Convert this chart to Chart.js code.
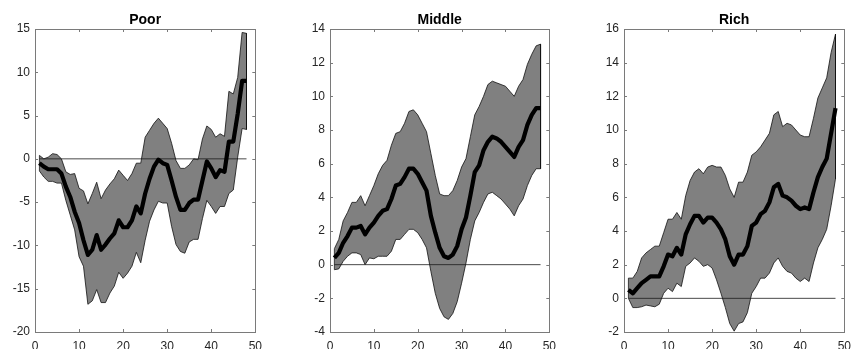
<!DOCTYPE html>
<html>
<head>
<meta charset="utf-8">
<script src="https://cdn.jsdelivr.net/npm/chart.js@4"></script>
<style>
  html, body { margin: 0; padding: 0; background: #fff; overflow: hidden; width: 855px; height: 349px; }
  .panel { position: absolute; top: 0; height: 360px; }
</style>
</head>
<body>
<div class="panel" id="p1"><canvas id="c1"></canvas></div>
<div class="panel" id="p2"><canvas id="c2"></canvas></div>
<div class="panel" id="p3"><canvas id="c3"></canvas></div>
<script>
// ---- data ----
const periods = [1,2,3,4,5,6,7,8,9,10,11,12,13,14,15,16,17,18,19,20,21,22,23,24,25,26,27,28,29,30,31,32,33,34,35,36,37,38,39,40,41,42,43,44,45,46,47,48];
const titles = ["Poor", "Middle", "Rich"];
const xTicks = [0, 10, 20, 30, 40, 50];

const poorMedian = [-0.5,-0.9,-1.2,-1.2,-1.2,-1.7,-3.2,-4.4,-6.1,-7.4,-9.4,-11.1,-10.5,-8.8,-10.5,-9.9,-9.2,-8.6,-7.1,-7.9,-7.9,-7.1,-5.5,-6.3,-4.0,-2.3,-0.9,-0.1,-0.5,-0.7,-2.5,-4.4,-5.9,-5.9,-5.1,-4.7,-4.7,-2.5,-0.3,-1.1,-2.1,-1.3,-1.5,2.0,2.0,5.2,9.0,9.0];
const poorUpper  = [0.4,0.0,0.2,0.6,0.5,0.0,-1.5,-1.8,-1.7,-3.4,-3.7,-5.2,-4.0,-2.7,-4.6,-3.6,-2.9,-2.3,-1.3,-1.9,-2.5,-1.7,-0.5,-0.5,2.5,3.3,4.1,4.7,4.1,3.5,1.8,-0.2,-1.1,-1.1,-0.7,0.0,-0.1,2.3,3.8,3.4,2.5,2.9,2.6,7.8,7.5,9.4,14.6,14.5];
const poorLower  = [-1.4,-2.1,-2.6,-2.6,-2.8,-2.8,-4.8,-6.5,-8.2,-11.3,-12.4,-16.8,-16.4,-15.1,-16.6,-16.6,-15.5,-14.7,-13.1,-13.8,-13.2,-12.4,-10.8,-12.0,-9.4,-7.2,-5.9,-4.9,-5.1,-5.1,-7.8,-9.9,-10.7,-10.9,-9.6,-9.3,-9.3,-6.9,-4.8,-5.5,-6.3,-5.5,-5.5,-4.0,-3.6,0.2,3.5,3.4];

const middleMedian = [0.4,0.7,1.3,1.7,2.2,2.2,2.3,1.8,2.2,2.5,2.9,3.2,3.3,3.9,4.7,4.8,5.2,5.7,5.7,5.4,4.9,4.4,2.9,1.9,1.0,0.5,0.4,0.6,1.1,2.1,2.8,4.1,5.5,5.9,6.8,7.3,7.6,7.5,7.3,7.0,6.7,6.4,7.0,7.4,8.3,8.9,9.3,9.3];
const middleUpper  = [0.95,1.5,2.6,3.1,3.7,3.7,4.1,3.5,4.1,4.7,5.4,5.9,6.2,7.1,7.8,7.9,8.4,9.1,9.2,8.9,8.4,7.9,6.6,5.3,4.2,4.1,4.1,4.4,5.0,5.8,6.3,7.6,8.9,9.4,10.0,10.7,10.9,10.8,10.7,10.6,10.3,10.0,10.6,11.0,11.9,12.5,13.0,13.1];
const middleLower  = [-0.3,-0.25,0.2,0.5,0.7,0.7,0.6,0.0,0.4,0.35,0.5,0.5,0.5,0.8,1.5,1.5,1.8,2.1,2.1,1.9,1.5,1.0,-0.4,-1.7,-2.6,-3.1,-3.25,-2.9,-2.2,-1.1,0.1,1.5,2.6,3.1,3.7,4.2,4.3,4.1,3.9,3.6,3.3,2.9,3.5,3.9,4.7,5.3,5.7,5.7];

const richMedian = [0.5,0.3,0.6,0.9,1.1,1.3,1.3,1.3,1.9,2.6,2.5,3.0,2.6,3.8,4.4,4.9,4.9,4.5,4.8,4.8,4.5,4.1,3.5,2.5,2.0,2.6,2.6,3.1,4.3,4.5,5.0,5.2,5.7,6.6,6.8,6.1,6.0,5.8,5.5,5.3,5.4,5.3,6.3,7.2,7.8,8.3,9.8,11.3];
const richUpper  = [1.2,1.2,1.6,2.4,2.7,2.9,3.1,3.1,3.9,4.7,4.7,5.1,4.7,6.1,7.0,7.5,7.7,7.4,7.8,7.9,7.8,7.8,7.3,6.5,6.0,6.9,6.9,7.5,8.5,8.7,9.0,9.4,9.8,10.9,11.1,10.2,10.4,10.3,10.0,9.7,9.6,9.6,10.7,11.9,12.5,13.1,14.6,15.7];
const richLower  = [0.0,-0.55,-0.55,-0.5,-0.4,-0.45,-0.5,-0.35,0.3,0.6,0.4,0.9,0.7,1.9,2.1,2.4,2.2,1.9,2.0,1.8,1.1,0.3,-0.55,-1.5,-1.95,-1.5,-1.4,-0.85,0.3,0.7,1.2,1.2,1.5,2.1,2.4,1.9,1.6,1.5,1.2,1.0,1.2,1.0,2.1,3.0,3.5,4.1,5.5,7.1];

const poorYTicks   = [-20, -15, -10, -5, 0, 5, 10, 15];
const middleYTicks = [-4, -2, 0, 2, 4, 6, 8, 10, 12, 14];
const richYTicks   = [-2, 0, 2, 4, 6, 8, 10, 12, 14, 16];

// ---- layout (plot area placement per panel) ----
const panels = [
  { id: 'p1', canvas: 'c1', plotL: 35,  plotR: 259, title: titles[0], med: poorMedian,   up: poorUpper,   lo: poorLower,   yt: poorYTicks },
  { id: 'p2', canvas: 'c2', plotL: 330, plotR: 553, title: titles[1], med: middleMedian, up: middleUpper, lo: middleLower, yt: middleYTicks },
  { id: 'p3', canvas: 'c3', plotL: 624, plotR: 848, title: titles[2], med: richMedian,   up: richUpper,   lo: richLower,   yt: richYTicks }
];
const PLOT_TOP = 29, PLOT_BOTTOM = 332, PANEL_H = 360, YAXIS_W = 35, RIGHT_PAD = 10;
const FONT = "'Liberation Sans', Arial, Helvetica, sans-serif";
const AXIS_COLOR = '#262626';

const framePlugin = {
  id: 'frame',
  afterDraw(chart, args, opts) {
    const { ctx, chartArea: a, scales } = chart;
    ctx.save();
    ctx.strokeStyle = '#7a7a7a';
    ctx.lineWidth = 1;
    ctx.strokeRect(Math.round(a.left) + 0.5, Math.round(a.top) + 0.5, Math.round(a.right - a.left), Math.round(a.bottom - a.top));
    const tl = 3;
    ctx.beginPath();
    xTicks.forEach(v => {
      const px = Math.round(scales.x.getPixelForValue(v)) + 0.5;
      ctx.moveTo(px, a.bottom); ctx.lineTo(px, a.bottom - tl);
      ctx.moveTo(px, a.top); ctx.lineTo(px, a.top + tl);
    });
    opts.yTicks.forEach(v => {
      const py = Math.round(scales.y.getPixelForValue(v)) + 0.5;
      ctx.moveTo(a.left, py); ctx.lineTo(a.left + tl, py);
      ctx.moveTo(a.right, py); ctx.lineTo(a.right - tl, py);
    });
    ctx.stroke();
    ctx.fillStyle = '#000';
    ctx.font = 'bold 14px ' + FONT;
    ctx.textAlign = 'center';
    ctx.textBaseline = 'alphabetic';
    ctx.fillText(opts.title, (a.left + a.right) / 2, 24);
    ctx.restore();
  }
};

panels.forEach(p => {
  const left = p.plotL - YAXIS_W;
  const width = p.plotR - left + RIGHT_PAD;
  const div = document.getElementById(p.id);
  div.style.left = left + 'px';
  div.style.width = width + 'px';

  const pts = arr => periods.map((x, i) => ({ x: x, y: arr[i] }));
  const outline = pts(p.up).concat(pts(p.lo).reverse());
  outline.push({ x: periods[0], y: p.up[0] });
  const zero = [{ x: periods[0], y: 0 }, { x: periods[periods.length - 1], y: 0 }];

  new Chart(document.getElementById(p.canvas), {
    type: 'line',
    data: {
      datasets: [
        { label: 'median', data: pts(p.med), borderColor: '#000', borderWidth: 4.2, pointRadius: 0, tension: 0, borderJoinStyle: 'round', fill: false },
        { label: 'zero', data: zero, borderColor: '#1a1a1a', borderWidth: 0.8, pointRadius: 0, fill: false },
        { label: 'outline', data: outline, borderColor: '#111', borderWidth: 0.8, pointRadius: 0, tension: 0, fill: false },
        { label: 'upper', data: pts(p.up), borderColor: 'rgba(0,0,0,0)', borderWidth: 0, pointRadius: 0, tension: 0, fill: '+1', backgroundColor: '#808080' },
        { label: 'lower', data: pts(p.lo), borderColor: 'rgba(0,0,0,0)', borderWidth: 0, pointRadius: 0, tension: 0, fill: false }
      ]
    },
    options: {
      responsive: true,
      maintainAspectRatio: false,
      animation: false,
      devicePixelRatio: 1,
      layout: { padding: { top: PLOT_TOP, right: RIGHT_PAD, left: 0, bottom: 0 } },
      plugins: {
        legend: { display: false },
        tooltip: { enabled: false },
        title: { display: false },
        frame: { title: p.title, yTicks: p.yt }
      },
      scales: {
        x: {
          type: 'linear', min: xTicks[0], max: xTicks[xTicks.length - 1],
          afterFit: s => { s.height = PANEL_H - PLOT_BOTTOM; },
          afterBuildTicks: s => { s.ticks = xTicks.map(v => ({ value: v })); },
          grid: { display: false, drawTicks: false },
          border: { display: false },
          ticks: { color: AXIS_COLOR, font: { family: FONT, size: 12 }, padding: 7, maxRotation: 0, autoSkip: false }
        },
        y: {
          type: 'linear', min: p.yt[0], max: p.yt[p.yt.length - 1],
          afterFit: s => { s.width = YAXIS_W; },
          afterBuildTicks: s => { s.ticks = p.yt.map(v => ({ value: v })); },
          grid: { display: false, drawTicks: false },
          border: { display: false },
          ticks: { color: AXIS_COLOR, font: { family: FONT, size: 12 }, padding: 5, autoSkip: false }
        }
      }
    },
    plugins: [framePlugin]
  });
});
</script>
</body>
</html>
